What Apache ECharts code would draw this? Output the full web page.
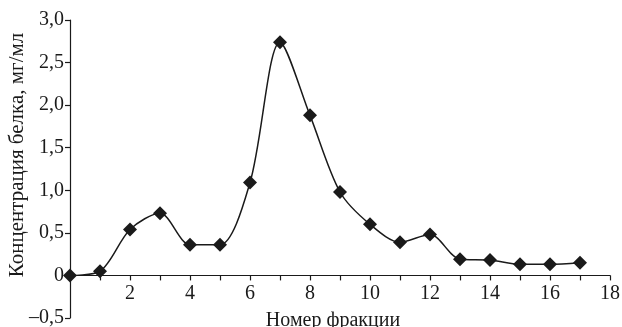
<!DOCTYPE html>
<html>
<head>
<meta charset="utf-8">
<script src="https://cdn.jsdelivr.net/npm/echarts@6/dist/echarts.min.js"></script>
<style>
  html, body { margin: 0; padding: 0; background: #fff; }
  #chart { width: 622px; height: 327px; }
</style>
</head>
<body>
<div id="chart"></div>
<script>
// fraction numbers and protein concentration (mg/ml)
const fractions = [0, 1, 2, 3, 4, 5, 6, 7, 8, 9, 10, 11, 12, 13, 14, 15, 16, 17];
const concentration = [0, 0.05, 0.54, 0.73, 0.36, 0.36, 1.09, 2.74, 1.88, 0.98, 0.60, 0.39, 0.48, 0.19, 0.18, 0.13, 0.13, 0.15];

const fontFamily = '"Liberation Serif", "DejaVu Serif", serif';
const ink = '#1a1a1a';

const chart = echarts.init(document.getElementById('chart'), null, { renderer: 'canvas' });

const fmtY = (v) => {
    if (Math.abs(v) < 1e-9) return '0';
    const s = Math.abs(v).toFixed(1).replace('.', ',');
    return v < 0 ? '\u2013' + s : s;
};

// grid: 298px tall for 3.5 units -> zero line sits 0.5 unit above the bottom
const gridTop = 20, gridBottom = 9;
const zeroOffset = -(327 - gridTop - gridBottom) * 0.5 / 3.5;

chart.setOption({
    animation: false,
    textStyle: { fontFamily },
    grid: { left: 70, right: 12, top: gridTop, bottom: gridBottom, containLabel: false, outerBoundsMode: 'none' },
    xAxis: {
        type: 'value',
        position: 'bottom',
        offset: zeroOffset,
        min: 0,
        max: 18,
        interval: 1,
        name: 'Номер фракции',
        nameLocation: 'middle',
        nameGap: 35,
        nameTextStyle: { fontFamily, fontSize: 20, color: ink, padding: [0, 14, 0, 0] },
        axisLine: { onZero: false, lineStyle: { color: ink, width: 1.2 } },
        axisTick: { show: true, length: 5, inside: false, lineStyle: { color: ink, width: 1.2 } },
        axisLabel: {
            fontFamily, fontSize: 20, color: ink, margin: 8,
            formatter: (v) => (v % 2 === 0 && v !== 0 ? String(v) : '')
        },
        splitLine: { show: false }
    },
    yAxis: {
        type: 'value',
        min: -0.5,
        max: 3,
        interval: 0.5,
        name: 'Концентрация белка, мг/мл',
        nameLocation: 'middle',
        nameGap: 42,
        nameMoveOverlap: false,
        nameTextStyle: { fontFamily, fontSize: 21, color: ink, padding: [0, 0, 0, 28] },
        axisLine: { show: true, onZero: false, lineStyle: { color: ink, width: 1.2 } },
        axisTick: { show: true, length: 5, inside: false, lineStyle: { color: ink, width: 1.2 } },
        axisLabel: { fontFamily, fontSize: 20, color: ink, margin: 6, formatter: fmtY },
        splitLine: { show: false }
    },
    series: [{
        type: 'line',
        data: fractions.map((f, i) => [f, concentration[i]]),
        smooth: 0.3,
        symbol: 'diamond',
        symbolSize: 14,
        itemStyle: { color: ink },
        lineStyle: { color: ink, width: 1.5 }
    }]
});
</script>
</body>
</html>
